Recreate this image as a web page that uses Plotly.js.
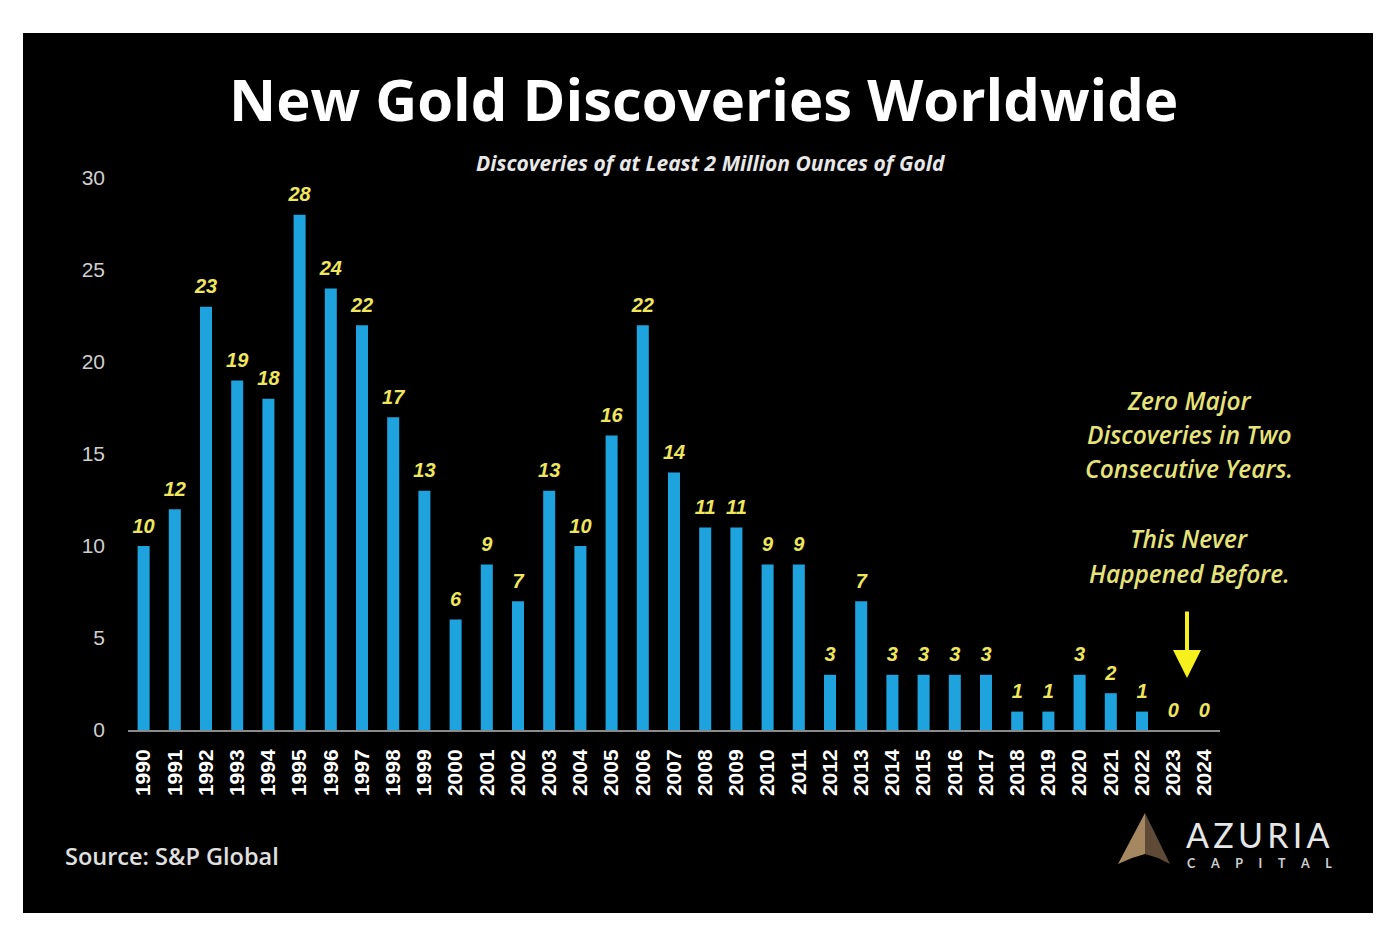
<!DOCTYPE html>
<html>
<head>
<meta charset="utf-8">
<script src="https://cdn.plot.ly/plotly-3.0.1.min.js"></script>
<style>
html,body{margin:0;padding:0;background:#fff;}
#chart{width:1400px;height:942px;}
</style>
</head>
<body>
<div id="chart"></div>
<script>
// ---- data ----
var years = ["1990","1991","1992","1993","1994","1995","1996","1997","1998","1999",
             "2000","2001","2002","2003","2004","2005","2006","2007","2008","2009",
             "2010","2011","2012","2013","2014","2015","2016","2017","2018","2019",
             "2020","2021","2022","2023","2024"];
var discoveries = [10,12,23,19,18,28,24,22,17,13,
                   6,9,7,13,10,16,22,14,11,11,
                   9,9,3,7,3,3,3,3,1,1,
                   3,2,1,0,0];
var yTicks = [0,5,10,15,20,25,30];
var titleText = "New Gold Discoveries Worldwide";
var subtitleText = "Discoveries of at Least 2 Million Ounces of Gold";
var noteLines1 = ["Zero Major","Discoveries in Two","Consecutive Years."];
var noteLines2 = ["This Never","Happened Before."];
var sourceText = "Source: S&P Global";

// ---- layout geometry ----
var W = 1400, H = 942;
var mL = 128, mR = 180, mT = 178, mB = 212;
var pw = W - mL - mR, ph = H - mT - mB;
function PX(px){ return (px - mL) / pw; }
function PY(py){ return (H - mB - py) / ph; }

var yellow = "#efe65e";
var noteYellow = "#e6e37a";

var bars = {
  type: "bar",
  x: years,
  y: discoveries,
  marker: {color: "#1fa3de"},
  hoverinfo: "x+y",
  showlegend: false
};
var labels = {
  type: "scatter",
  mode: "markers+text",
  x: years,
  y: discoveries,
  text: discoveries.map(String),
  textposition: "top center",
  marker: {size: 12, opacity: 0},
  textfont: {family: "Liberation Sans, Arial, sans-serif", size: 20, color: yellow, weight: "bold", style: "italic"},
  cliponaxis: false,
  hoverinfo: "skip",
  showlegend: false
};

var annotations = [];
annotations.push({xref:"paper", yref:"paper", x:PX(703), y:PY(98), xanchor:"center", yanchor:"middle",
  text:"<b>"+titleText+"</b>", showarrow:false,
  font:{family:"Open Sans, sans-serif", size:58, color:"#ffffff"}});
annotations.push({xref:"paper", yref:"paper", x:PX(711), y:PY(163), xanchor:"center", yanchor:"middle",
  text:"<b><i>"+subtitleText+"</i></b>", showarrow:false,
  font:{family:"Open Sans, sans-serif", size:21, color:"#e8e8e8"}});
var lineY1 = [400,434,468];
noteLines1.forEach(function(t,i){
  annotations.push({xref:"paper", yref:"paper", x:PX(1189), y:PY(lineY1[i]), xanchor:"center", yanchor:"middle",
    text:"<i>"+t+"</i>", showarrow:false,
    font:{family:"Open Sans, sans-serif", size:24.5, color:noteYellow, weight:600}});
});
var lineY2 = [538,573];
noteLines2.forEach(function(t,i){
  annotations.push({xref:"paper", yref:"paper", x:PX(1189), y:PY(lineY2[i]), xanchor:"center", yanchor:"middle",
    text:"<i>"+t+"</i>", showarrow:false,
    font:{family:"Open Sans, sans-serif", size:24.5, color:noteYellow, weight:600}});
});
// arrow
annotations.push({xref:"paper", yref:"paper", x:PX(1187), y:PY(678), ax:0, ay:-68,
  text:"", showarrow:true, arrowhead:2, arrowsize:1.4, arrowwidth:4, arrowcolor:"#f5f01e"});
// source
annotations.push({xref:"paper", yref:"paper", x:PX(63), y:PY(856), xanchor:"left", yanchor:"middle",
  text:sourceText, showarrow:false,
  font:{family:"Open Sans, sans-serif", size:23.5, color:"#e0e0e0", weight:600}});
// logo text
annotations.push({xref:"paper", yref:"paper", x:PX(1258), y:PY(834), xanchor:"center", yanchor:"middle",
  text:"A Z U R I A".replace(/ /g,"\u2009"), showarrow:false,
  font:{family:"Lato, sans-serif", size:34, color:"#e6e6e6"}});
annotations.push({xref:"paper", yref:"paper", x:PX(1259), y:PY(863), xanchor:"center", yanchor:"middle",
  text:["C","A","P","I","T","A","L"].join("\u2003\u2002"), showarrow:false,
  font:{family:"Lato, sans-serif", size:12.5, color:"#d0d0d0", weight:"bold"}});

function path(pts){
  var s = "M " + PX(pts[0][0]) + "," + PY(pts[0][1]);
  for (var i=1;i<pts.length;i++) s += " L " + PX(pts[i][0]) + "," + PY(pts[i][1]);
  return s + " Z";
}

var shapes = [
  {type:"rect", xref:"paper", yref:"paper", x0:PX(23), x1:PX(1373), y0:PY(913), y1:PY(33),
   fillcolor:"#000000", line:{width:0}, layer:"below"},
  {type:"path", xref:"paper", yref:"paper", layer:"above",
   path: path([[1118,864],[1145,813],[1145,854],[1132,858]]), fillcolor:"#a58762", line:{width:0}},
  {type:"path", xref:"paper", yref:"paper", layer:"above",
   path: path([[1145,813],[1170,864],[1158,858],[1145,854]]), fillcolor:"#5e4a36", line:{width:0}}
];

var layout = {
  width: W, height: H,
  margin: {l:mL, r:mR, t:mT, b:mB, pad:0},
  paper_bgcolor: "#ffffff",
  plot_bgcolor: "rgba(0,0,0,0)",
  bargap: 0.615,
  showlegend: false,
  xaxis: {
    type: "category",
    range: [-0.5, 34.5],
    showgrid: false, zeroline: false,
    showline: true, linecolor: "#8a8a8a", linewidth: 2,
    ticks: "", tickangle: -90,
    ticklabelstandoff: 9,
    tickfont: {family:"Liberation Sans, Arial, sans-serif", size:21, color:"#ffffff", weight:"bold"},
    fixedrange: true
  },
  yaxis: {
    range: [0, 30],
    tickvals: yTicks,
    ticktext: yTicks.map(String),
    showgrid: false, zeroline: false, showline: false,
    ticks: "",
    ticklabelstandoff: 22,
    tickfont: {family:"Liberation Sans, Arial, sans-serif", size:21, color:"#cfcfcf"},
    fixedrange: true
  },
  annotations: annotations,
  shapes: shapes
};

Plotly.newPlot("chart", [bars, labels], layout, {displayModeBar:false, staticPlot:true});
</script>
</body>
</html>
